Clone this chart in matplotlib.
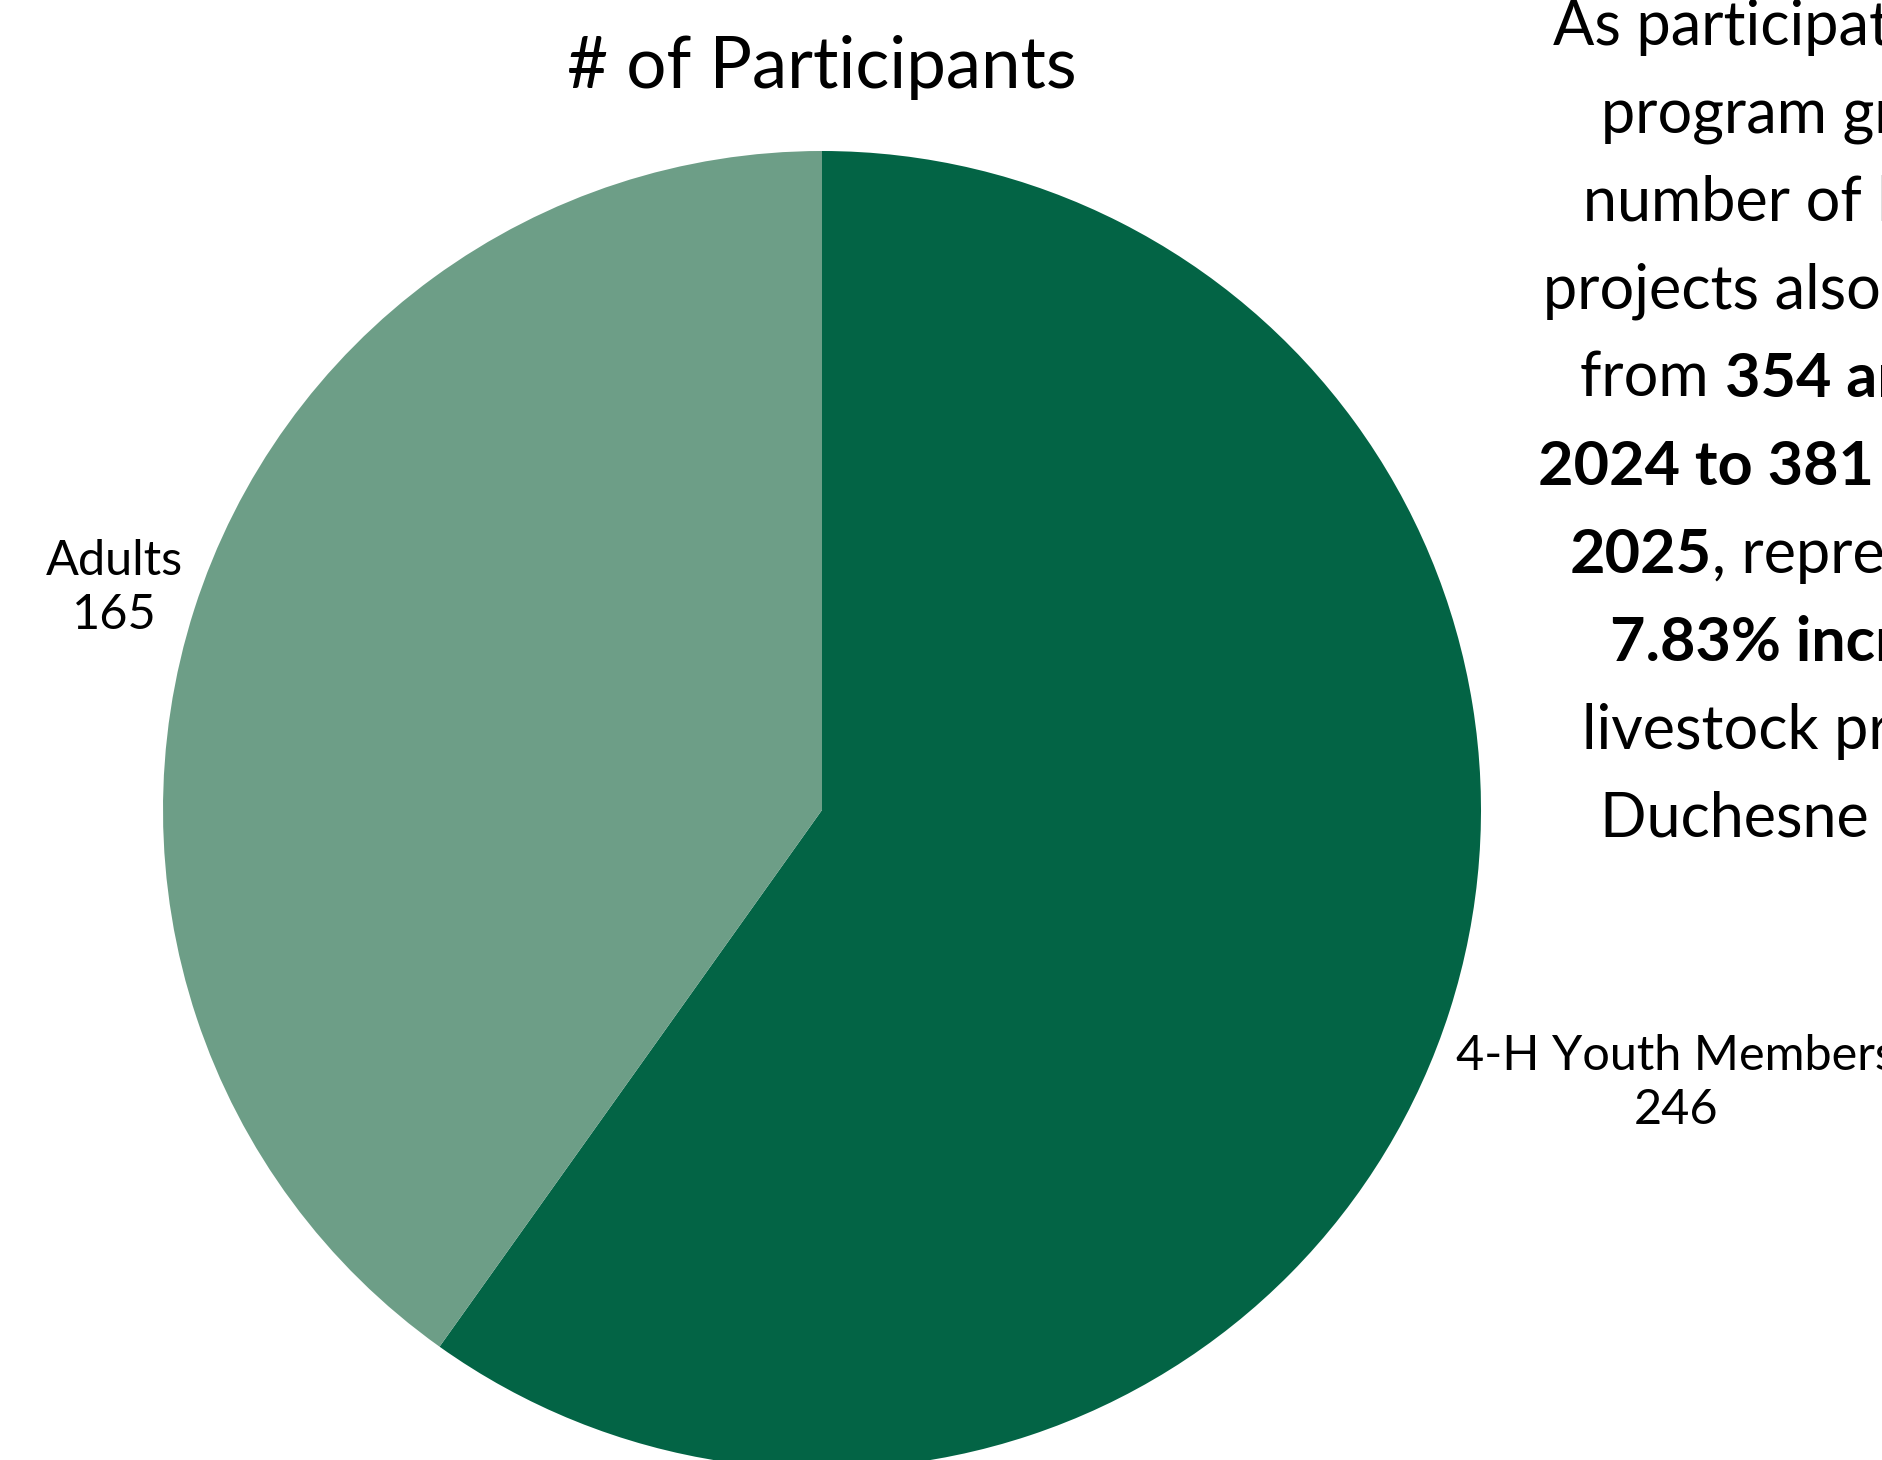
import matplotlib
matplotlib.use("Agg")
import matplotlib.pyplot as plt

W, H = 1882, 1460

groups = ["4-H Youth Members", "Adults"]
counts = [246, 165]
colors = ["#036445", "#6d9e87"]

title = "# of Participants"

# right-hand note, one list of (text, bold) pieces per line
note_lines = [
    [("As participation in the", False)],
    [("program grew, the", False)],
    [("number of livestock", False)],
    [("projects also increased", False)],
    [("from ", False), ("354 animals in", True)],
    [("2024 to 381 animals in", True)],
    [("2025", True), (", representing a", False)],
    [("7.83% increase", True), (" in", False)],
    [("livestock projects in", False)],
    [("Duchesne County.", False)],
]

plt.rcParams['font.family'] = ['Lato', 'DejaVu Sans']

fig = plt.figure(figsize=(W / 100, H / 100), dpi=100)
fig.patch.set_facecolor("white")

# pie center and radius in pixels
cx, cy, r = 822, 810, 659
ax = fig.add_axes([(cx - r) / W, 1 - (cy + r) / H, 2 * r / W, 2 * r / H])
ax.pie(counts, colors=colors, startangle=90, counterclock=False, radius=1,
       wedgeprops=dict(linewidth=0))
ax.set_xlim(-1, 1)
ax.set_ylim(-1, 1)
ax.set_aspect("equal")
ax.axis("off")

fig.text(822 / W, 1 - 68 / H, title, ha="center", va="center", fontsize=51)

label_pos = {"Adults": (114, 588), "4-H Youth Members": (1676, 1083)}
for g, c in zip(groups, counts):
    x, y = label_pos[g]
    fig.text(x / W, 1 - y / H, f"{g}\n{c}", ha="center", va="center",
             fontsize=35, linespacing=1.3)

# paragraph, centered lines, mixed bold
fig.canvas.draw()
renderer = fig.canvas.get_renderer()
note_cx = 1848
note_fs = 44
top_y = 27
step = 88
for i, line in enumerate(note_lines):
    widths = []
    for txt, bold in line:
        t = fig.text(0, 0, txt, fontsize=note_fs, fontweight="bold" if bold else "normal")
        widths.append(t.get_window_extent(renderer).width)
        t.remove()
    x = note_cx - sum(widths) / 2
    y = top_y + i * step
    for (txt, bold), w in zip(line, widths):
        fig.text(x / W, 1 - y / H, txt, ha="left", va="center", fontsize=note_fs,
                 fontweight="bold" if bold else "normal")
        x += w

fig.savefig("out.png", dpi=100)
